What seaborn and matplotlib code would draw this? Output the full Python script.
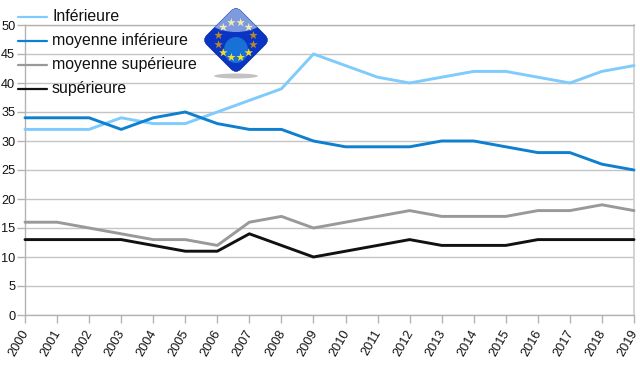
import numpy as np
import pandas as pd
import matplotlib
matplotlib.use('Agg')
import matplotlib.pyplot as plt
import seaborn as sns
from matplotlib.patches import FancyBboxPatch, Ellipse, Circle
from matplotlib.transforms import Affine2D, ScaledTranslation

years = list(range(2000, 2020))
inferieure = [32, 32, 32, 34, 33, 33, 35, 37, 39, 45, 43, 41, 40, 41, 42, 42, 41, 40, 42, 43]
moy_inferieure = [34, 34, 34, 32, 34, 35, 33, 32, 32, 30, 29, 29, 29, 30, 30, 29, 28, 28, 26, 25]
moy_superieure = [16, 16, 15, 14, 13, 13, 12, 16, 17, 15, 16, 17, 18, 17, 17, 17, 18, 18, 19, 18]
superieure = [13, 13, 13, 13, 12, 11, 11, 14, 12, 10, 11, 12, 13, 12, 12, 12, 13, 13, 13, 13]
names = ['Inférieure', 'moyenne inférieure', 'moyenne supérieure', 'supérieure']
colors = ['#7fcbfb', '#0f7fd0', '#999999', '#111111']
y_ticks = list(range(0, 55, 5))

df = pd.DataFrame({
    'annee': years * 4,
    'valeur': inferieure + moy_inferieure + moy_superieure + superieure,
    'classe': sum([[n] * len(years) for n in names], []),
})

sns.set_theme(style='white')
plt.rcParams['font.family'] = ['Liberation Sans', 'DejaVu Sans']

W, H = 640, 372
fig = plt.figure(figsize=(W / 100, H / 100), dpi=100)
ax = fig.add_axes([25 / W, 1 - 315 / H, (634 - 25) / W, (315 - 25) / H])

sns.lineplot(data=df, x='annee', y='valeur', hue='classe', hue_order=names,
             palette=colors, linewidth=2.1, ax=ax, legend=False, clip_on=False, zorder=3)

ax.set_xlim(years[0], years[-1])
ax.set_ylim(0, 50)
ax.set_xticks(years)
ax.set_yticks(y_ticks)
ax.set_xlabel('')
ax.set_ylabel('')
ax.set_xticklabels([str(y) for y in years], rotation=60, ha='center', va='top',
                   fontsize=9.2, color='#111111')
ax.tick_params(axis='x', length=6, width=1, color='#b3b3b3', pad=3, bottom=True)
ax.tick_params(axis='y', length=6, width=1, color='#b3b3b3', pad=1, left=True,
               labelsize=9.2, labelcolor='#111111')
# les annees sont decalees vers la gauche par rapport aux graduations
shift = ScaledTranslation(-6 / 100, 0, fig.dpi_scale_trans)
for lab in ax.get_xticklabels():
    lab.set_transform(lab.get_transform() + shift)
ax.grid(axis='y', color='#c4c4c4', linewidth=1)
ax.set_axisbelow(True)
for side in ['left', 'bottom', 'top']:
    ax.spines[side].set_color('#b3b3b3')
    ax.spines[side].set_linewidth(1)
ax.spines['right'].set_color('#cfcfcf')

# legende a la main, superposee au graphique
for name, color, y in zip(names, colors, [17, 41, 65, 89]):
    fig.add_artist(plt.Line2D([18 / W, 47 / W], [1 - y / H, 1 - y / H], color=color, linewidth=1.6))
    fig.text(52 / W, 1 - (y - 0.5) / H, name, fontsize=11.4, va='center', ha='left', color='#111111')

# logo
logo = fig.add_axes([200 / W, 1 - 84 / H, 72 / W, 76 / H])
logo.set_xlim(-36, 36)
logo.set_ylim(-44, 32)
logo.axis('off')
rot = Affine2D().rotate_deg(45) + logo.transData
logo.add_patch(Ellipse((0, -36), 44, 5, color='#9a9a9a', alpha=0.6, lw=0))
body = FancyBboxPatch((-24, -24), 48, 48, boxstyle='round,pad=0,rounding_size=7',
                      fc='#0a35c4', ec='#0a2aa0', lw=0.5, transform=rot)
logo.add_patch(body)
top = FancyBboxPatch((-24, -24), 48, 48, boxstyle='round,pad=0,rounding_size=7',
                     fc='#7f9be0', ec='none', transform=rot)
logo.add_patch(top)
top.set_clip_path(Ellipse((0, 30), 70, 44, transform=logo.transData))
logo.add_patch(Ellipse((0, -10), 24, 26, fc='#1d8be0', ec='none', alpha=0.7))
t = np.deg2rad(np.arange(15, 375, 30))
star_colors = ['#f0ecb0' if s > 0.6 else ('#b98a2a' if s > -0.4 else '#f4e02a') for s in np.sin(t)]
logo.scatter(18 * np.cos(t), 18 * np.sin(t), marker='*', s=42, lw=0, c=star_colors, zorder=5)

fig.savefig('out.png', dpi=100)
